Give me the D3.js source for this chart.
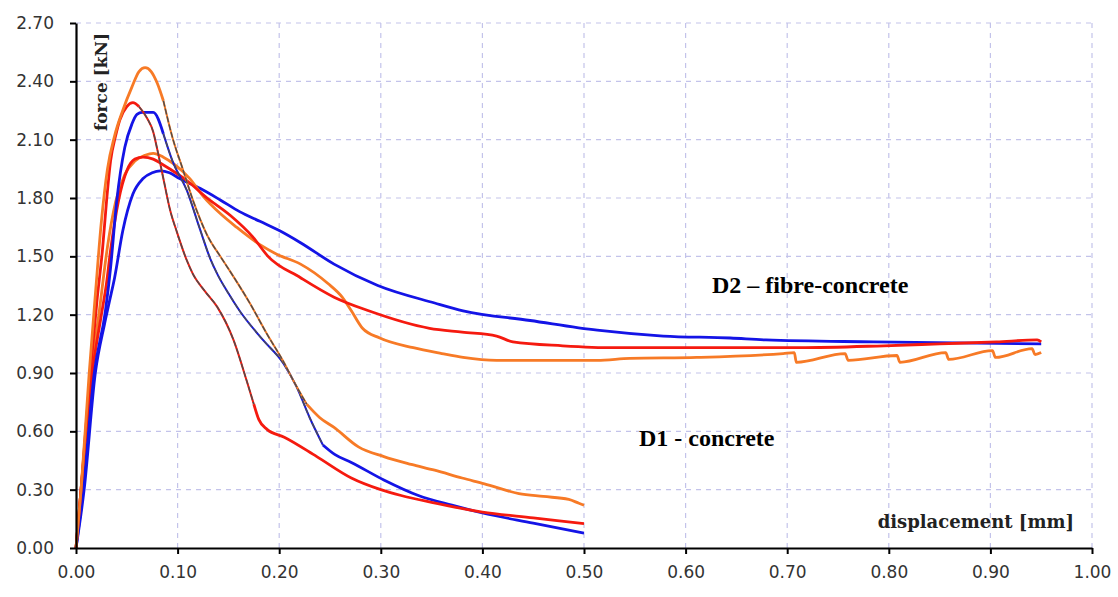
<!DOCTYPE html>
<html>
<head>
<meta charset="utf-8">
<title>force - displacement</title>
<script src="https://cdn.jsdelivr.net/npm/d3@7"></script>
<style>
  body { margin: 0; background: #fff; }
  svg { display: block; }
</style>
</head>
<body>
<svg id="chart" width="1118" height="597"></svg>
<script>
// tick values for both axes
const xTicks = [0, 0.1, 0.2, 0.3, 0.4, 0.5, 0.6, 0.7, 0.8, 0.9, 1.0];
const yTicks = [0, 0.3, 0.6, 0.9, 1.2, 1.5, 1.8, 2.1, 2.4, 2.7];

// D1 - concrete specimens  [displacement mm, force kN]
const d1Orange = [
  [0,0],[0.005,0.30],[0.013,0.90],[0.019,1.30],[0.025,1.68],[0.031,1.95],[0.038,2.12],
  [0.046,2.25],[0.055,2.37],[0.062,2.45],[0.068,2.47],[0.074,2.45],[0.080,2.39],[0.086,2.30],
  [0.095,2.11],[0.105,1.95],[0.115,1.79],[0.129,1.61],[0.142,1.50],[0.152,1.42],[0.171,1.26],
  [0.188,1.10],[0.204,0.96],[0.214,0.86],[0.227,0.74],[0.240,0.67],[0.254,0.62],[0.278,0.52],
  [0.303,0.47],[0.330,0.43],[0.353,0.40],[0.380,0.36],[0.402,0.33],[0.436,0.28],[0.460,0.265],
  [0.485,0.25],[0.495,0.23],[0.500,0.22]
];
const d1Red = [
  [0,0],[0.005,0.30],[0.014,0.90],[0.021,1.29],[0.026,1.53],[0.030,1.78],[0.034,1.99],
  [0.039,2.12],[0.043,2.20],[0.050,2.27],[0.056,2.29],[0.062,2.27],[0.070,2.21],[0.076,2.14],
  [0.080,2.05],[0.086,1.90],[0.093,1.73],[0.099,1.63],[0.109,1.48],[0.115,1.41],[0.127,1.32],
  [0.139,1.24],[0.155,1.07],[0.168,0.86],[0.175,0.74],[0.180,0.66],[0.188,0.61],[0.205,0.57],
  [0.237,0.47],[0.271,0.36],[0.300,0.30],[0.320,0.27],[0.350,0.235],[0.400,0.185],
  [0.450,0.155],[0.500,0.125]
];
const d1Blue = [
  [0,0],[0.007,0.30],[0.018,0.90],[0.029,1.22],[0.034,1.44],[0.040,1.78],[0.048,2.06],
  [0.055,2.18],[0.060,2.23],[0.065,2.24],[0.076,2.24],[0.086,2.13],[0.095,1.99],[0.109,1.84],
  [0.122,1.64],[0.132,1.49],[0.139,1.41],[0.150,1.31],[0.161,1.22],[0.184,1.07],[0.204,0.95],
  [0.217,0.83],[0.230,0.67],[0.243,0.53],[0.255,0.48],[0.271,0.44],[0.303,0.35],[0.337,0.27],
  [0.370,0.22],[0.400,0.18],[0.450,0.128],[0.500,0.077]
];

// D2 - fibre-concrete specimens
const d2Red = [
  [0,0],[0.005,0.30],[0.016,0.90],[0.025,1.20],[0.030,1.36],[0.034,1.53],[0.042,1.79],
  [0.050,1.94],[0.058,2.00],[0.066,2.01],[0.076,2.00],[0.086,1.97],[0.109,1.89],[0.129,1.80],
  [0.152,1.71],[0.174,1.60],[0.189,1.50],[0.221,1.39],[0.254,1.29],[0.288,1.22],[0.348,1.13],
  [0.380,1.11],[0.414,1.09],[0.430,1.06],[0.479,1.04],[0.529,1.03],[0.644,1.03],[0.712,1.03],
  [0.795,1.04],[0.850,1.05],[0.906,1.06],[0.946,1.07],[0.950,1.06]
];
const d2Orange = [
  [0,0],[0.005,0.30],[0.015,0.90],[0.023,1.22],[0.031,1.55],[0.039,1.78],[0.048,1.92],
  [0.058,1.99],[0.068,2.02],[0.076,2.03],[0.086,2.01],[0.095,1.98],[0.112,1.90],[0.125,1.81],
  [0.142,1.72],[0.158,1.65],[0.181,1.56],[0.198,1.51],[0.221,1.46],[0.248,1.36],[0.262,1.29],
  [0.271,1.22],[0.282,1.13],[0.299,1.08],[0.332,1.03],[0.360,1.00],[0.381,0.98],[0.414,0.965],
  [0.513,0.965],[0.545,0.975],[0.611,0.98],[0.696,1.00],[0.707,1.005],[0.709,0.955],
  [0.757,1.00],[0.760,0.965],[0.808,0.99],[0.811,0.955],[0.856,1.005],[0.859,0.97],
  [0.902,1.015],[0.905,0.98],[0.941,1.025],[0.944,0.995],[0.950,1.005]
];
const d2Blue = [
  [0,0],[0.008,0.30],[0.019,0.90],[0.028,1.15],[0.033,1.27],[0.038,1.39],[0.046,1.63],
  [0.056,1.82],[0.066,1.90],[0.075,1.93],[0.083,1.94],[0.092,1.93],[0.102,1.90],[0.122,1.85],
  [0.142,1.79],[0.161,1.73],[0.181,1.68],[0.201,1.63],[0.221,1.57],[0.254,1.46],[0.297,1.35],
  [0.353,1.26],[0.381,1.22],[0.447,1.17],[0.513,1.12],[0.578,1.09],[0.644,1.08],[0.679,1.07],
  [0.785,1.06],[0.950,1.05]
];

const svg = d3.select("#chart");

// plot area
const plotLeft = 76, plotRight = 1092, plotTop = 23, plotBottom = 548;

const x = d3.scaleLinear().domain([0, 1]).range([plotLeft, plotRight]);
const y = d3.scaleLinear().domain([0, 2.7]).range([plotBottom, plotTop]);

const gridColor = "#c3c3ea";

// dashed grid
svg.append("g")
  .selectAll("line")
  .data(xTicks.slice(1))
  .join("line")
  .attr("x1", d => x(d)).attr("x2", d => x(d))
  .attr("y1", y(2.7)).attr("y2", y(0))
  .attr("stroke", gridColor)
  .attr("stroke-width", 1.2)
  .attr("stroke-dasharray", "5,5");

svg.append("g")
  .selectAll("line")
  .data(yTicks.slice(1))
  .join("line")
  .attr("x1", x(0)).attr("x2", x(1))
  .attr("y1", d => y(d)).attr("y2", d => y(d))
  .attr("stroke", gridColor)
  .attr("stroke-width", 1.2)
  .attr("stroke-dasharray", "5,5");

const line = d3.line()
  .x(d => x(d[0]))
  .y(d => y(d[1]))
  .curve(d3.curveMonotoneX);

// draws one curve; the steep part of the D1 curves is overdrawn thin and dark
function drawCurve(data, color, dark) {
  if (!dark) {
    svg.append("path")
      .attr("d", line(data))
      .attr("fill", "none")
      .attr("stroke", color)
      .attr("stroke-width", 2.8)
      .attr("stroke-linejoin", "round");
    return;
  }
  let i0 = 0;
  data.forEach((d, i) => { if (d[0] <= dark[0]) i0 = i; });
  const i1 = data.findIndex(d => d[0] >= dark[1]);
  const partA = data.slice(0, i0 + 1);
  const partB = data.slice(i0, i1 + 1);
  const partC = data.slice(i1);

  [partA, partC].forEach(p => {
    svg.append("path")
      .attr("d", line(p))
      .attr("fill", "none")
      .attr("stroke", color)
      .attr("stroke-width", 2.8)
      .attr("stroke-linejoin", "round");
  });
  svg.append("path")
    .attr("d", line(partB))
    .attr("fill", "none")
    .attr("stroke", color)
    .attr("stroke-width", 2);
  svg.append("path")
    .attr("d", line(partB))
    .attr("fill", "none")
    .attr("stroke", "#4d4d4d")
    .attr("stroke-width", 1.4)
    .attr("stroke-dasharray", "6,2");
}

const blue = "#1414e6";
const red = "#f51a0f";
const orange = "#f77a26";

drawCurve(d2Blue, blue);
drawCurve(d2Orange, orange);
drawCurve(d2Red, red);
drawCurve(d1Blue, blue, [0.088, 0.243]);
drawCurve(d1Red, red, [0.066, 0.172]);
drawCurve(d1Orange, orange, [0.088, 0.215]);

// axes
const fmt = d3.format(".2f");

const yAxis = svg.append("g")
  .attr("transform", `translate(${plotLeft},0)`)
  .call(d3.axisLeft(y).tickValues(yTicks).tickFormat(fmt).tickSize(6).tickSizeOuter(0).tickPadding(16));

const xAxis = svg.append("g")
  .attr("transform", `translate(0,${plotBottom})`)
  .call(d3.axisBottom(x).tickValues(xTicks).tickFormat(fmt).tickSize(6).tickSizeOuter(0).tickPadding(12));

[xAxis, yAxis].forEach(g => {
  g.select(".domain").attr("stroke", "#000").attr("stroke-width", 2.2);
  g.selectAll(".tick line").attr("stroke", "#000").attr("stroke-width", 2);
  g.selectAll(".tick text")
    .attr("font-family", "DejaVu Sans, Verdana, sans-serif")
    .attr("font-size", 17)
    .attr("fill", "#333");
});

// axis titles
svg.append("text")
  .attr("transform", "translate(107,82) rotate(-90)")
  .attr("text-anchor", "middle")
  .attr("font-family", "DejaVu Serif, serif")
  .attr("font-weight", "bold")
  .attr("font-size", 17)
  .attr("fill", "#222")
  .text("force [kN]");

svg.append("text")
  .attr("x", 1074)
  .attr("y", 528)
  .attr("text-anchor", "end")
  .attr("font-family", "DejaVu Serif, serif")
  .attr("font-weight", "bold")
  .attr("font-size", 18)
  .attr("fill", "#222")
  .text("displacement [mm]");

// series group labels
svg.append("text")
  .attr("x", 712)
  .attr("y", 293)
  .attr("font-family", "Liberation Serif, Times New Roman, serif")
  .attr("font-weight", "bold")
  .attr("font-size", 24)
  .attr("fill", "#000")
  .text("D2 – fibre-concrete");

svg.append("text")
  .attr("x", 639)
  .attr("y", 446)
  .attr("font-family", "Liberation Serif, Times New Roman, serif")
  .attr("font-weight", "bold")
  .attr("font-size", 24)
  .attr("fill", "#000")
  .text("D1 - concrete");
</script>
</body>
</html>
